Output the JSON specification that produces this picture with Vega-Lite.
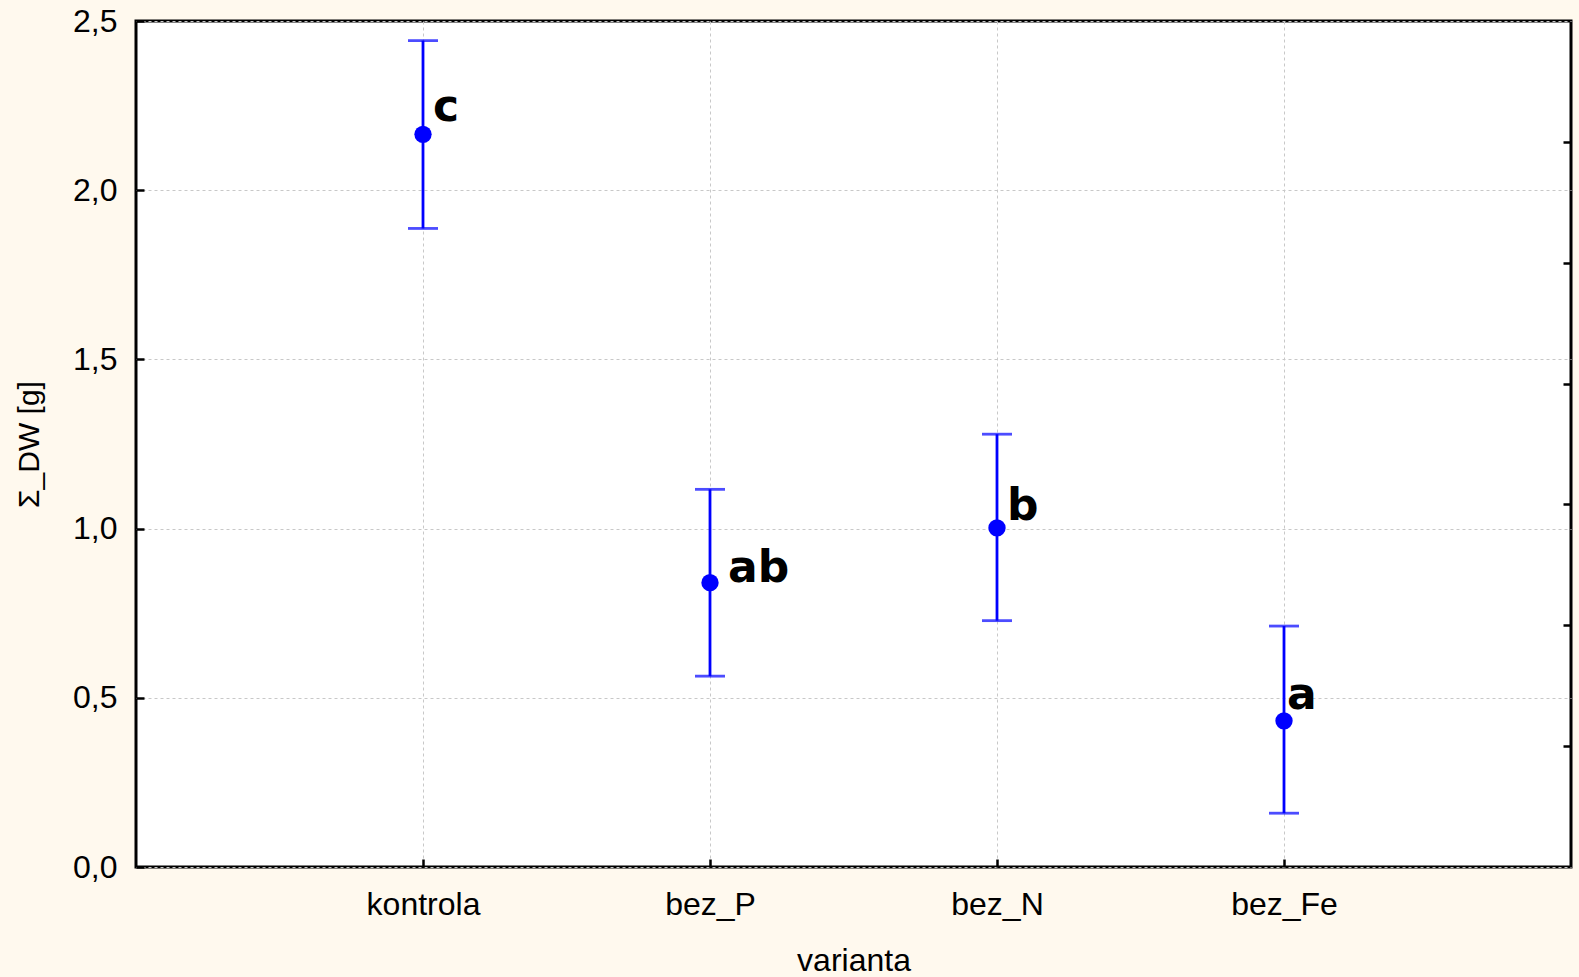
{
  "$schema": "https://vega.github.io/schema/vega-lite/v6.json",
  "width": 1435,
  "height": 846,
  "autosize": "none",
  "padding": {"left": 136, "top": 21, "right": 8, "bottom": 110},
  "background": "#FFF9EE",
  "config": {
    "view": {"stroke": "#000000", "strokeWidth": 3, "fill": "#ffffff"},
    "axis": {
      "domain": false,
      "tickColor": "#000000",
      "tickWidth": 2.5,
      "tickSize": -8,
      "gridColor": "#c8c8c8",
      "gridDash": [3, 3],
      "gridWidth": 1,
      "labelFont": "Liberation Sans",
      "labelFontSize": 32,
      "labelColor": "#000000",
      "titleFont": "Liberation Sans",
      "titleFontSize": 32,
      "titleFontWeight": "normal",
      "titleColor": "#000000"
    }
  },
  "data": {
    "values": [
      {"varianta": "kontrola", "mean": 2.165, "lo": 1.887, "hi": 2.442, "label": "c"},
      {"varianta": "bez_P", "mean": 0.840, "lo": 0.564, "hi": 1.116, "label": "ab"},
      {"varianta": "bez_N", "mean": 1.002, "lo": 0.728, "hi": 1.279, "label": "b"},
      {"varianta": "bez_Fe", "mean": 0.432, "lo": 0.159, "hi": 0.712, "label": "a"}
    ]
  },
  "encoding": {
    "x": {
      "field": "varianta",
      "type": "nominal",
      "sort": null,
      "scale": {"type": "point", "padding": 1},
      "axis": {"labelAngle": 0, "title": "varianta", "labelPadding": 30, "titlePadding": 25, "grid": true}
    }
  },
  "layer": [
    {
      "mark": {"type": "rule", "color": "#0000ff", "strokeWidth": 2.8},
      "encoding": {
        "y": {
          "field": "lo",
          "type": "quantitative",
          "scale": {"domain": [0, 2.5], "nice": false, "zero": false},
          "axis": {
            "values": [0, 0.5, 1, 1.5, 2, 2.5],
            "labelExpr": "replace(format(datum.value, '.1f'), '.', ',')",
            "title": "Σ_DW [g]",
            "titleFontSize": 30,
            "labelPadding": 27,
            "titlePadding": 28,
            "grid": true
          }
        },
        "y2": {"field": "hi"}
      }
    },
    {
      "mark": {"type": "tick", "color": "#0000ff", "size": 30, "thickness": 2.8, "orient": "horizontal"},
      "encoding": {
        "y": {"field": "lo", "type": "quantitative",
          "axis": {
            "orient": "right",
            "values": [0.357143, 0.714286, 1.071429, 1.428571, 1.785714, 2.142857],
            "labels": false,
            "grid": false,
            "title": null
          }
        }
      }
    },
    {
      "mark": {"type": "tick", "color": "#0000ff", "size": 30, "thickness": 2.8, "orient": "horizontal"},
      "encoding": {"y": {"field": "hi", "type": "quantitative", "axis": null}}
    },
    {
      "mark": {"type": "circle", "color": "#0000ff", "opacity": 1, "size": 300},
      "encoding": {"y": {"field": "mean", "type": "quantitative", "axis": null}}
    },
    {
      "transform": [{"filter": "datum.label == 'c'"}],
      "mark": {"type": "text", "font": "DejaVu Sans", "fontWeight": "bold", "fontSize": 44, "align": "left", "baseline": "alphabetic", "dx": 10, "dy": -13, "color": "#000000"},
      "encoding": {"y": {"field": "mean", "type": "quantitative", "axis": null}, "text": {"field": "label"}}
    },
    {
      "transform": [{"filter": "datum.label == 'ab'"}],
      "mark": {"type": "text", "font": "DejaVu Sans", "fontWeight": "bold", "fontSize": 44, "align": "left", "baseline": "alphabetic", "dx": 18, "dy": -1, "color": "#000000"},
      "encoding": {"y": {"field": "mean", "type": "quantitative", "axis": null}, "text": {"field": "label"}}
    },
    {
      "transform": [{"filter": "datum.label == 'b'"}],
      "mark": {"type": "text", "font": "DejaVu Sans", "fontWeight": "bold", "fontSize": 44, "align": "left", "baseline": "alphabetic", "dx": 10, "dy": -8, "color": "#000000"},
      "encoding": {"y": {"field": "mean", "type": "quantitative", "axis": null}, "text": {"field": "label"}}
    },
    {
      "transform": [{"filter": "datum.label == 'a'"}],
      "mark": {"type": "text", "font": "DejaVu Sans", "fontWeight": "bold", "fontSize": 44, "align": "left", "baseline": "alphabetic", "dx": 3, "dy": -12, "color": "#000000"},
      "encoding": {"y": {"field": "mean", "type": "quantitative", "axis": null}, "text": {"field": "label"}}
    }
  ],
  "resolve": {"axis": {"y": "independent"}}
}
